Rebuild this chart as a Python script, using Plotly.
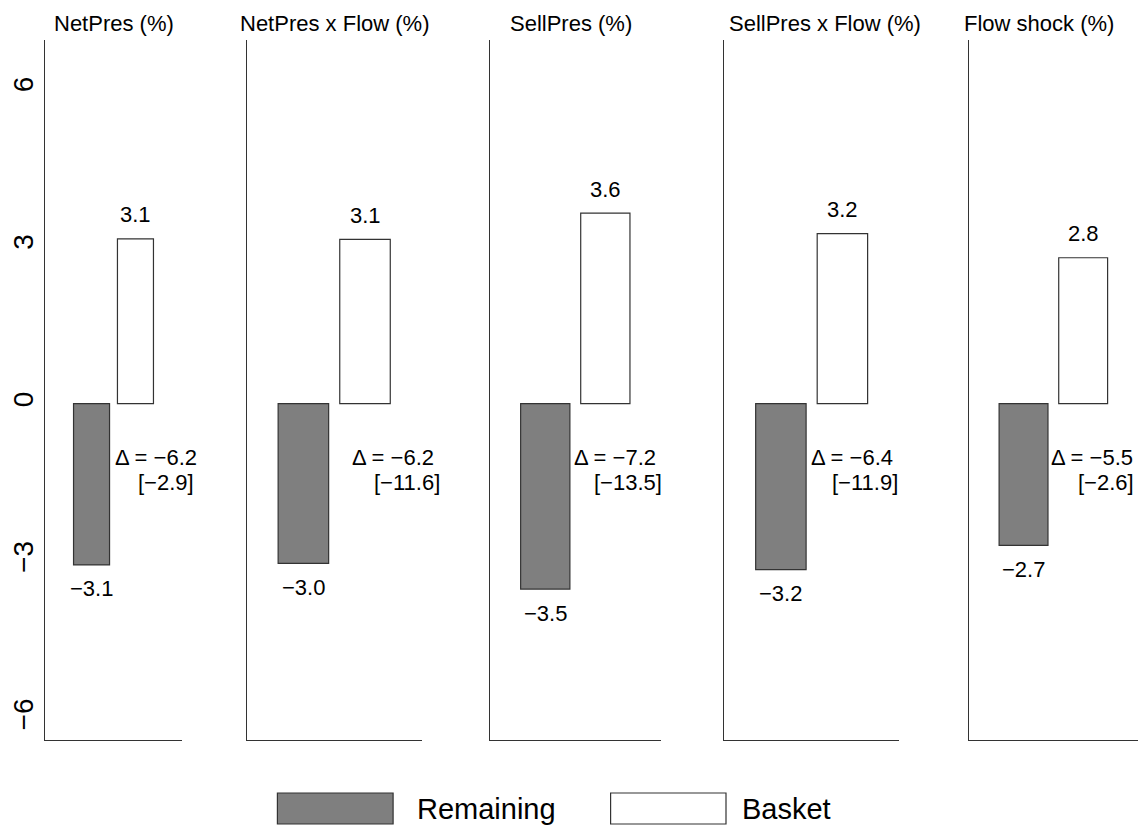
import plotly.graph_objects as go

# ---------------- data ----------------
panels = ["NetPres (%)", "NetPres x Flow (%)", "SellPres (%)", "SellPres x Flow (%)", "Flow shock (%)"]
groups = ["Remaining", "Basket"]
remaining = [-3.07, -3.04, -3.53, -3.16, -2.70]
basket = [3.14, 3.13, 3.63, 3.24, 2.78]
delta = [-6.2, -6.2, -7.2, -6.4, -5.5]
tstat = [-2.9, -11.6, -13.5, -11.9, -2.6]
yticks = [-6, -3, 0, 3, 6]

# ---------------- layout constants (pixels) ----------------
W, H = 1138, 827
FONT = "Liberation Sans, Arial, Helvetica, sans-serif"
panel_left = [45, 246.7, 490, 724.3, 968.7]
panel_right = [182, 421.7, 660.6, 899, 1138]
pad = [1.06, 0.92, 0.92, 0.92, 0.92]
title_cx = [114, 334, 570.5, 824.5, 1039]
delta_left = [112.7, 350, 571.7, 809.3, 1049]
tstat_left = [136, 371.7, 591.7, 830, 1076]
y_top, y_bot = 40, 740
y_zero, px_per_unit = 403.7, 52.5
GRAY = "#7f7f7f"
LINE = "#333333"


def px(x):
    return x / W


def py(y):
    return 1 - y / H


def fmt(v):
    return f"{v:.1f}".replace("-", "\u2212")


yrange = [-(y_bot - y_zero) / px_per_unit, (y_zero - y_top) / px_per_unit]

fig = go.Figure()
layout = dict(
    width=W, height=H, margin=dict(l=0, r=0, t=0, b=0),
    plot_bgcolor="white", paper_bgcolor="white",
    showlegend=False, barmode="overlay",
    font=dict(family=FONT, color="black", size=22),
)
annotations = []
shapes = []

for i, name in enumerate(panels):
    k = "" if i == 0 else str(i + 1)
    xa, ya = "x" + k, "y" + k
    fig.add_trace(go.Bar(
        x=[groups[0]], y=[remaining[i]], xaxis=xa, yaxis=ya, width=0.82,
        marker=dict(color=GRAY, line=dict(color=LINE, width=1.2)), name=groups[0],
    ))
    fig.add_trace(go.Bar(
        x=[groups[1]], y=[basket[i]], xaxis=xa, yaxis=ya, width=0.82,
        marker=dict(color="white", line=dict(color=LINE, width=1.2)), name=groups[1],
    ))
    layout["xaxis" + k] = dict(
        domain=[px(panel_left[i]), px(panel_right[i])], anchor=ya,
        type="category", categoryorder="array", categoryarray=groups,
        range=[-pad[i], 1 + pad[i]], showticklabels=False, ticks="",
        showgrid=False, zeroline=False, showline=True, linecolor=LINE, linewidth=1.2,
        fixedrange=True,
    )
    layout["yaxis" + k] = dict(
        domain=[py(y_bot), py(y_top)], anchor=xa, range=yrange,
        showgrid=False, zeroline=False, showline=True, linecolor=LINE, linewidth=1.2,
        ticks="", showticklabels=(i == 0),
        tickvals=yticks, ticktext=[fmt(t).replace(".0", "") for t in yticks],
        tickangle=-90, tickfont=dict(size=28), ticklabelstandoff=0,
        fixedrange=True,
    )
    # panel title
    annotations.append(dict(text=name, xref="paper", yref="paper", x=px(title_cx[i]), y=py(24),
                            xanchor="center", yanchor="middle", showarrow=False, font=dict(size=22)))
    # value labels
    annotations.append(dict(text=fmt(remaining[i]), xref=xa, yref=ya, x=groups[0], y=remaining[i],
                            yshift=-24, xanchor="center", yanchor="middle", showarrow=False))
    annotations.append(dict(text=fmt(basket[i]), xref=xa, yref=ya, x=groups[1], y=basket[i],
                            yshift=24, xanchor="center", yanchor="middle", showarrow=False))
    # difference and t-stat
    annotations.append(dict(text="\u0394 = " + fmt(delta[i]), xref="paper", yref=ya,
                            x=px(delta_left[i]), y=-1.03, xanchor="left", yanchor="middle",
                            showarrow=False))
    annotations.append(dict(text="[" + fmt(tstat[i]) + "]", xref="paper", yref=ya,
                            x=px(tstat_left[i]), y=-1.5, xanchor="left", yanchor="middle",
                            showarrow=False))

# manual legend
legend_items = [(groups[0], GRAY, 277.4, 393.1, 415), (groups[1], "white", 610.6, 726, 740)]
for label, col, x0, x1, tx in legend_items:
    shapes.append(dict(type="rect", xref="paper", yref="paper", x0=px(x0), x1=px(x1),
                       y0=py(824), y1=py(793), fillcolor=col, line=dict(color=LINE, width=1.2)))
    annotations.append(dict(text=label, xref="paper", yref="paper", x=px(tx), y=py(808.5),
                            xanchor="left", yanchor="middle", showarrow=False, font=dict(size=29)))

layout["annotations"] = annotations
layout["shapes"] = shapes
fig.update_layout(**layout)
fig.write_html("out.html", config={"displayModeBar": False, "staticPlot": True})

# remove the browser's default page margin so the figure sits at the window origin
with open("out.html", "r", encoding="utf-8") as f:
    html = f.read()
html = html.replace("<head>", "<head><style>html,body{margin:0;padding:0;overflow:hidden;}</style>", 1)
with open("out.html", "w", encoding="utf-8") as f:
    f.write(html)
